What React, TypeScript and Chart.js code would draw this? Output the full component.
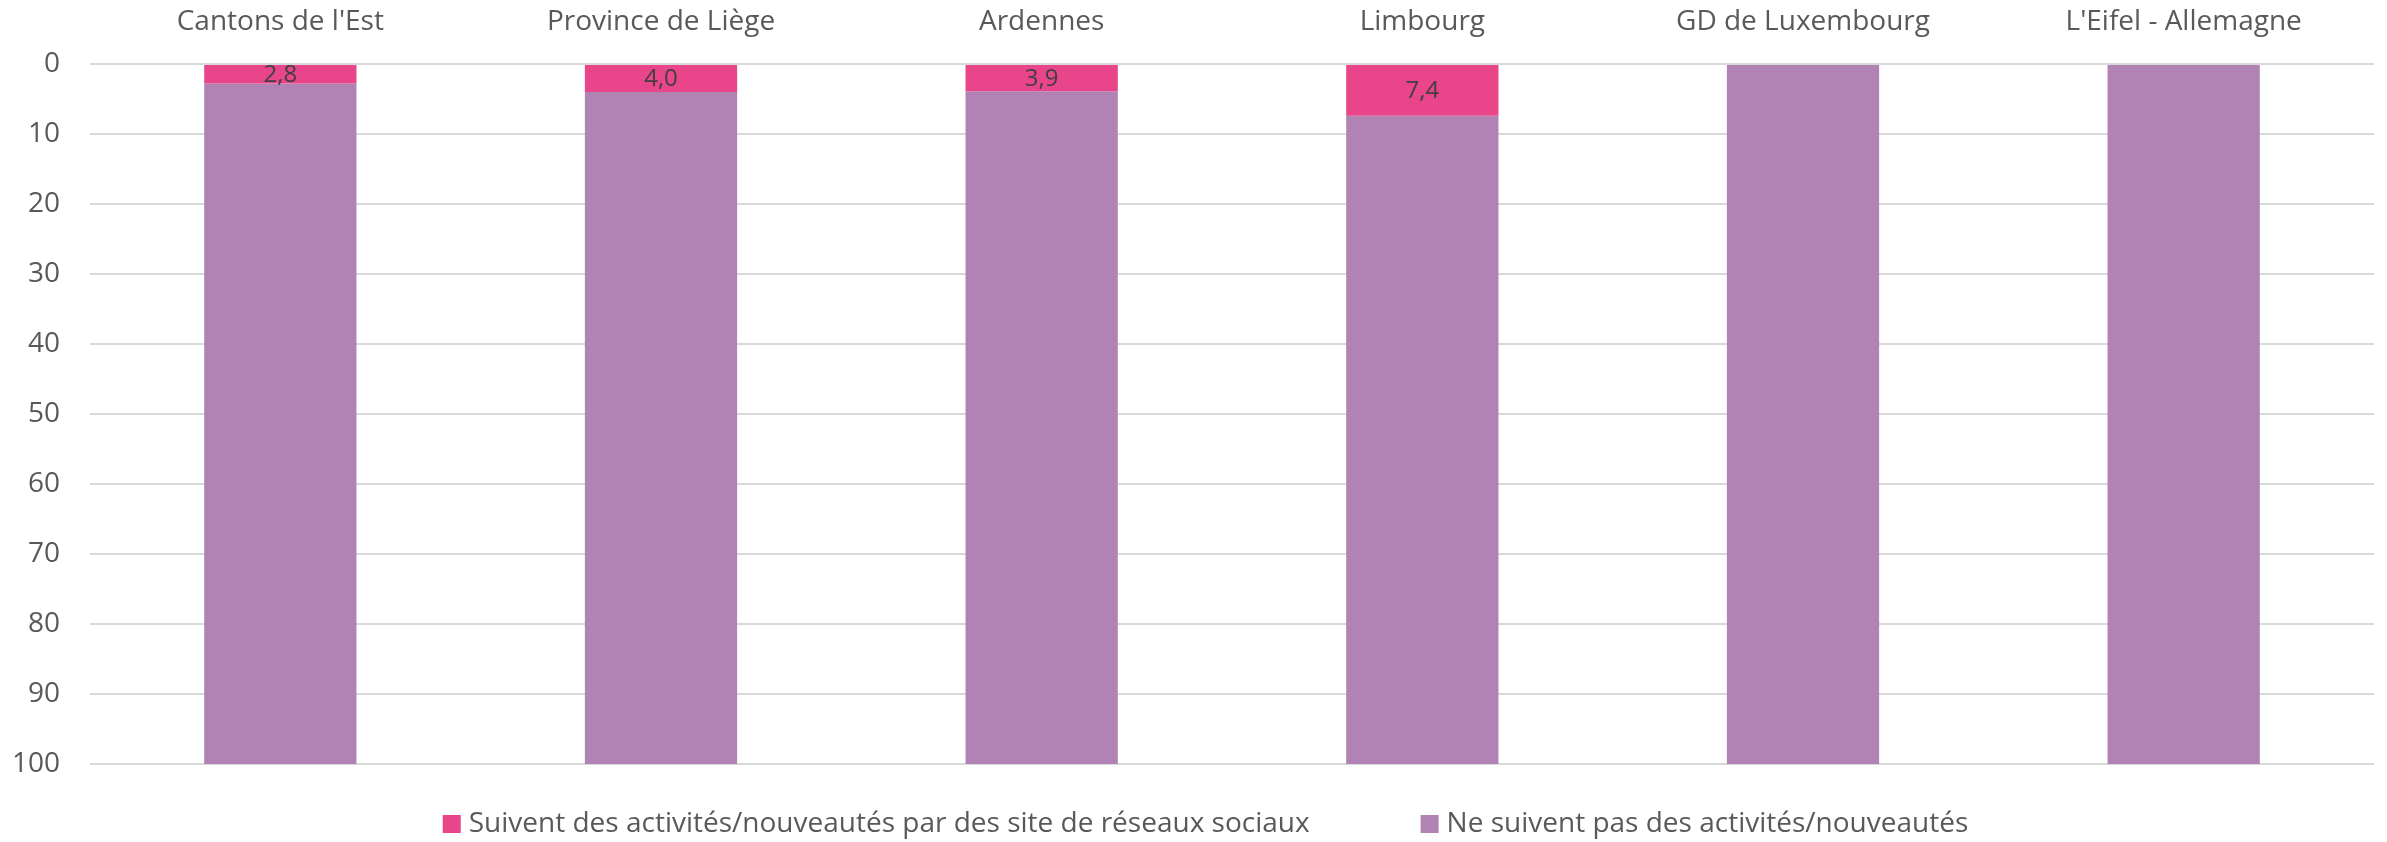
import React, { useEffect, useRef } from "react";
import { Chart, registerables } from "chart.js";

Chart.register(...registerables);

const categories = ["Cantons de l'Est", "Province de Liège", "Ardennes", "Limbourg", "GD de Luxembourg", "L'Eifel - Allemagne"];
const followValues = [2.8, 4.0, 3.9, 7.4, 0, 0];
const notFollowValues = [97.2, 96.0, 96.1, 92.6, 100, 100];
const seriesNames = [
  "Suivent des activités/nouveautés par des site de réseaux sociaux",
  "Ne suivent pas des activités/nouveautés",
];
const yTicks = [0, 10, 20, 30, 40, 50, 60, 70, 80, 90, 100];

const PINK = "#E9458A";
const PURPLE = "#B083B4";
const FONT = "'Open Sans', sans-serif";

const valueLabels = {
  id: "valueLabels",
  afterDatasetsDraw(chart: any) {
    const ctx = chart.ctx;
    const meta = chart.getDatasetMeta(0);
    ctx.save();
    ctx.font = `24px ${FONT}`;
    ctx.fillStyle = "#404040";
    ctx.textAlign = "center";
    ctx.textBaseline = "middle";
    meta.data.forEach((el: any, i: number) => {
      const v = followValues[i];
      if (!v) return;
      const y = (el.y + el.base) / 2 + 1;
      ctx.fillText(v.toFixed(1).replace(".", ","), el.x, y);
    });
    ctx.restore();
  },
};

const customLegend = {
  id: "customLegend",
  afterDraw(chart: any) {
    const ctx = chart.ctx;
    ctx.save();
    ctx.font = `28px ${FONT}`;
    ctx.textBaseline = "middle";
    ctx.textAlign = "left";
    const box = 18;
    const gapText = 8;
    const gapItems = 111;
    const colors = [PINK, PURPLE];
    const widths = seriesNames.map((s) => ctx.measureText(s).width);
    const total = widths.reduce((a, w) => a + box + gapText + w, 0) + gapItems;
    let x = chart.width / 2 + 12 - total / 2;
    const cy = 824;
    seriesNames.forEach((s, i) => {
      ctx.fillStyle = colors[i];
      ctx.fillRect(x, cy - box / 2, box, box);
      ctx.fillStyle = "#595959";
      ctx.fillText(s, x + box + gapText, cy);
      x += box + gapText + widths[i] + gapItems;
    });
    ctx.restore();
  },
};

export default function App() {
  const ref = useRef<HTMLCanvasElement>(null);
  useEffect(() => {
    if (!ref.current) return;
    const chart = new Chart(ref.current, {
      type: "bar",
      data: {
        labels: categories,
        datasets: [
          { label: seriesNames[0], data: followValues, backgroundColor: PINK, borderWidth: 0, barPercentage: 0.4, categoryPercentage: 1 },
          { label: seriesNames[1], data: notFollowValues, backgroundColor: PURPLE, borderWidth: 0, barPercentage: 0.4, categoryPercentage: 1 },
        ],
      },
      options: {
        animation: false,
        responsive: false,
        maintainAspectRatio: false,
        layout: { padding: { left: 0, right: 13, top: 0, bottom: 78 } },
        plugins: { legend: { display: false }, tooltip: { enabled: false } },
        scales: {
          x: {
            position: "top",
            stacked: true,
            grid: { display: false, drawTicks: false },
            border: { display: false },
            ticks: { font: { family: FONT, size: 28 }, color: "#595959", padding: 25, maxRotation: 0 },
            afterFit(scale: any) { scale.height = 64; },
          },
          y: {
            stacked: true,
            reverse: true,
            min: 0,
            max: 100,
            afterBuildTicks(scale: any) { scale.ticks = yTicks.map((v) => ({ value: v })); },
            grid: { color: "#D9D9D9", lineWidth: 2, drawTicks: false },
            border: { display: false },
            ticks: { font: { family: FONT, size: 28 }, color: "#595959", padding: 30 },
            afterFit(scale: any) { scale.width = 90; },
          },
        },
      },
      plugins: [valueLabels, customLegend],
    });
    return () => chart.destroy();
  }, []);
  return (
    <div style={{ position: "fixed", left: 0, top: 0, width: 2387, height: 842, background: "#fff" }}>
      <canvas ref={ref} width={2387} height={842} style={{ width: 2387, height: 842, display: "block" }} />
    </div>
  );
}
